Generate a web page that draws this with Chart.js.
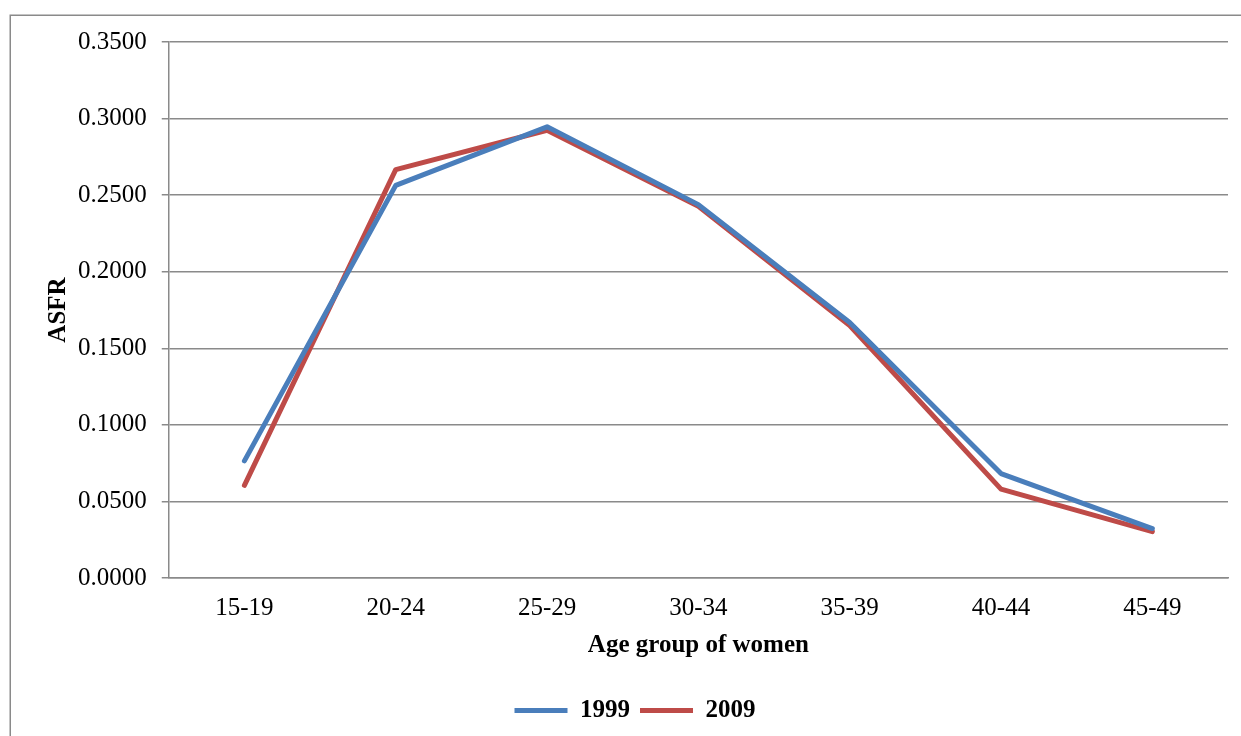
<!DOCTYPE html>
<html>
<head>
<meta charset="utf-8">
<script src="https://cdn.jsdelivr.net/npm/chart.js@4/dist/chart.umd.min.js"></script>
<style>
  html, body { margin: 0; padding: 0; background: #fff; }
  #wrap { position: relative; width: 1241px; height: 736px; }
  canvas { position: absolute; left: 0; top: 0; }
</style>
</head>
<body>
<div id="wrap"><canvas id="c" width="1241" height="736"></canvas></div>
<script>
const categories = ['15-19', '20-24', '25-29', '30-34', '35-39', '40-44', '45-49'];
const asfr1999 = [0.0765, 0.2564, 0.2946, 0.2438, 0.1668, 0.0682, 0.0323];
const asfr2009 = [0.0605, 0.2667, 0.2924, 0.2427, 0.1649, 0.0580, 0.0303];
const seriesLabels = ['1999', '2009'];
const yTitle = 'ASFR';
const xTitle = 'Age group of women';

const FONT = "'Liberation Serif', 'Times New Roman', serif";

const frame = {
  id: 'frame',
  beforeDraw(chart) {
    const ctx = chart.ctx;
    ctx.save();
    ctx.fillStyle = '#ffffff';
    ctx.fillRect(0, 0, chart.width, chart.height);
    ctx.strokeStyle = '#8a8a8a';
    ctx.lineWidth = 1.5;
    ctx.strokeRect(10.25, 15.25, chart.width + 20, chart.height + 20);
    ctx.restore();
  }
};

new Chart(document.getElementById('c'), {
  type: 'line',
  data: {
    labels: categories,
    datasets: [
      { label: seriesLabels[0], data: asfr1999, borderColor: '#4A7EBB', backgroundColor: '#4A7EBB',
        borderWidth: 5, pointRadius: 0, tension: 0, borderCapStyle: 'round', borderJoinStyle: 'round', pointStyle: 'line' },
      { label: seriesLabels[1], data: asfr2009, borderColor: '#BE4B48', backgroundColor: '#BE4B48',
        borderWidth: 5, pointRadius: 0, tension: 0, borderCapStyle: 'round', borderJoinStyle: 'round', pointStyle: 'line' }
    ]
  },
  options: {
    responsive: false,
    animation: false,
    devicePixelRatio: 1,
    layout: { padding: { left: 42, right: 13, top: 42, bottom: 3 } },
    plugins: {
      tooltip: { enabled: false },
      legend: {
        position: 'bottom',
        labels: {
          usePointStyle: true,
          pointStyleWidth: 53,
          boxHeight: 5,
          padding: 10,
          color: '#000',
          font: { family: FONT, size: 25, weight: 'bold' }
        }
      }
    },
    scales: {
      x: {
        offset: true,
        grid: { display: false, drawTicks: false },
        border: { display: true, color: '#8a8a8a', width: 1.5 },
        ticks: { color: '#000', padding: 15, font: { family: FONT, size: 25 }, maxRotation: 0 },
        title: { display: true, text: xTitle, color: '#000', padding: { top: -7, bottom: 27 },
                 font: { family: FONT, size: 25, weight: 'bold' } }
      },
      y: {
        min: 0,
        max: 0.35,
        grid: { color: '#8a8a8a', lineWidth: 1.5, tickLength: 7, drawTicks: true },
        border: { display: true, color: '#8a8a8a', width: 1.5 },
        ticks: { stepSize: 0.05, color: '#000', padding: 15, font: { family: FONT, size: 25 },
                 callback: v => Number(v).toFixed(4) },
        title: { display: true, text: yTitle, color: '#000', padding: { top: 2, bottom: -11 },
                 font: { family: FONT, size: 25, weight: 'bold' } }
      }
    }
  },
  plugins: [frame]
});
</script>
</body>
</html>
